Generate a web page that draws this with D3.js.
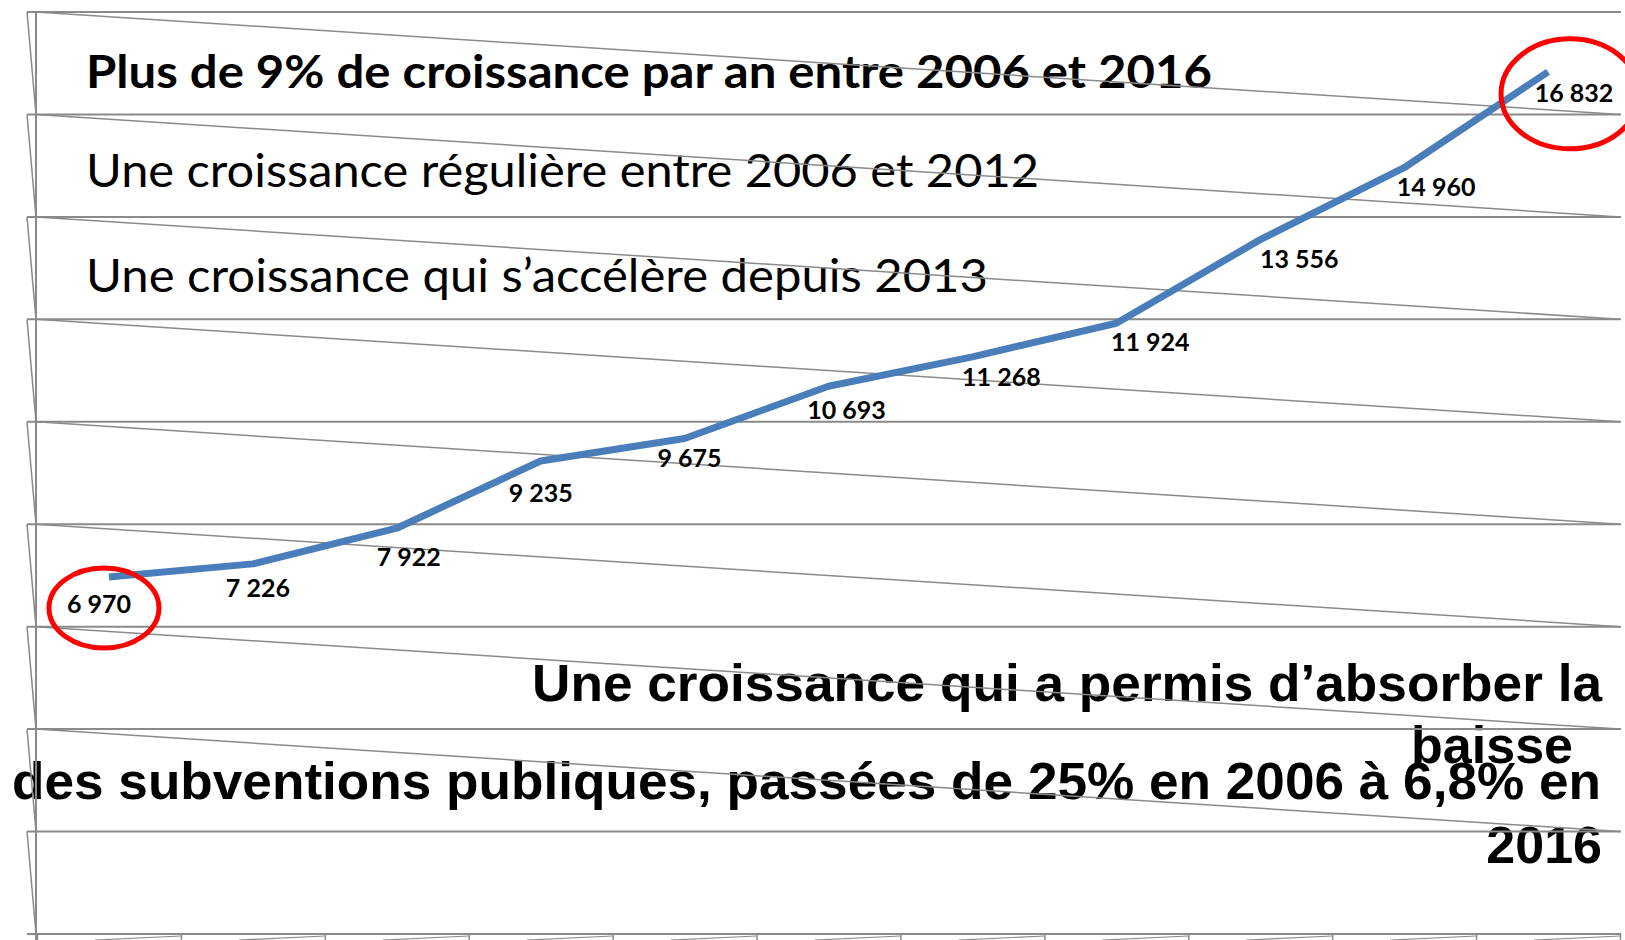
<!DOCTYPE html>
<html>
<head>
<meta charset="utf-8">
<script src="https://cdn.jsdelivr.net/npm/d3@7"></script>
<style>
  html, body { margin: 0; padding: 0; background: #fff; overflow: hidden; }
</style>
</head>
<body>
<div class="chart"></div>
<script>
// données : chiffre d'affaires 2006 - 2016
const years = ['2006', '2007', '2008', '2009', '2010', '2011', '2012', '2013', '2014', '2015', '2016'];
const values = [6970, 7226, 7922, 9235, 9675, 10693, 11268, 11924, 13556, 14960, 16832];
const gridValues = [0, 2000, 4000, 6000, 8000, 10000, 12000, 14000, 16000, 18000];

const titleLines = [
  'Plus de 9% de croissance par an entre 2006 et 2016',
  'Une croissance régulière entre 2006 et 2012',
  'Une croissance qui s’accélère depuis 2013'
];
const noteLines = [
  'Une croissance qui a permis d’absorber la',
  'baisse',
  'des subventions publiques, passées de 25% en 2006 à 6,8% en',
  '2016'
];

// mise en page (vue 3D : étiquettes décalées par rapport aux points)
const labelNudge = [[-10, 36], [5, 33], [12, 38], [0, 41], [5, 29], [18, 33], [29, 29], [34, 28], [39, 28], [32, 28], [26, 30]];
const titleLayout = [
  { x: 86, y: 88, len: 1126, weight: 'bold' },
  { x: 86, y: 187, len: 953, weight: 'normal' },
  { x: 86, y: 292, len: 902, weight: 'normal' }
];
const noteLayout = [
  { x: 1602, y: 701, len: 1070 },
  { x: 1573, y: 763 },
  { x: 1601, y: 799, len: 1589 },
  { x: 1602, y: 863 }
];
// cercles rouges : premier et dernier point
const highlights = [
  { i: 0, dx: -5, dy: 31, rx: 55, ry: 40 },
  { i: 10, dx: 22, dy: 22, rx: 69, ry: 55 }
];

const width = 1625, height = 940;
const wallOuter = 27, wallLeft = 36, wallRight = 1621;
const gridColor = '#8a8a8a';

const svg = d3.select('.chart').append('svg')
  .attr('width', width)
  .attr('height', height);

// échelles
const x = d3.scaleBand().domain(years).range([37, 1620]);
const xc = d => x(d) + x.bandwidth() / 2;
const xEdge = d3.scaleLinear().domain([0, years.length]).range([37, 1620]);
const y = d3.scaleLinear().domain([0, 18000]).range([934, 12]);

const fmt = d3.formatLocale({ decimal: ',', thousands: ' ', grouping: [3], currency: ['', ''] }).format(',d');

// textes du haut
svg.append('g')
  .selectAll('text')
  .data(titleLines)
  .enter()
  .append('text')
  .attr('x', (d, i) => titleLayout[i].x)
  .attr('y', (d, i) => titleLayout[i].y)
  .attr('textLength', (d, i) => titleLayout[i].len)
  .attr('lengthAdjust', 'spacingAndGlyphs')
  .attr('font-family', 'Lato, "Open Sans", sans-serif')
  .attr('font-weight', (d, i) => titleLayout[i].weight)
  .attr('font-size', 46)
  .attr('fill', '#000')
  .text(d => d);

// texte du bas
const notes = svg.append('g')
  .selectAll('text')
  .data(noteLines)
  .enter()
  .append('text')
  .attr('x', (d, i) => noteLayout[i].x - (noteLayout[i].len || 0))
  .attr('y', (d, i) => noteLayout[i].y)
  .attr('text-anchor', (d, i) => noteLayout[i].len ? 'start' : 'end')
  .attr('font-family', '"Liberation Sans", Arial, sans-serif')
  .attr('font-weight', 'bold')
  .attr('font-size', 52)
  .attr('fill', '#000')
  .text(d => d);
notes.filter((d, i) => noteLayout[i].len)
  .attr('textLength', (d, i, n) => noteLayout[noteLines.indexOf(d)].len)
  .attr('lengthAdjust', 'spacingAndGlyphs');

// grille (paroi du fond)
const grid = svg.append('g').attr('stroke', gridColor).attr('fill', 'none');

grid.selectAll('.h-line')
  .data(gridValues)
  .enter()
  .append('line')
  .attr('class', 'h-line')
  .attr('x1', wallOuter)
  .attr('x2', wallRight)
  .attr('y1', d => y(d))
  .attr('y2', d => y(d))
  .attr('stroke-width', 2);

// petits segments obliques de la paroi gauche
grid.selectAll('.l-slant')
  .data(gridValues.slice(1))
  .enter()
  .append('line')
  .attr('class', 'l-slant')
  .attr('x1', wallOuter)
  .attr('y1', d => y(d))
  .attr('x2', wallLeft)
  .attr('y2', (d, i) => y(gridValues[i]))
  .attr('stroke-width', 1.5);

// diagonales de perspective
grid.selectAll('.diag')
  .data(gridValues.slice(2))
  .enter()
  .append('line')
  .attr('class', 'diag')
  .attr('x1', wallLeft)
  .attr('y1', d => y(d))
  .attr('x2', 1620)
  .attr('y2', (d, i) => y(gridValues[i + 1]))
  .attr('stroke-width', 1.5);

grid.append('line')
  .attr('x1', wallLeft)
  .attr('x2', wallLeft)
  .attr('y1', y(18000))
  .attr('y2', height)
  .attr('stroke-width', 2);

// axe des catégories (graduations aux bords)
const xAxis = d3.axisBottom(xEdge)
  .tickValues(d3.range(years.length + 1))
  .tickSize(7)
  .tickSizeOuter(0)
  .tickFormat('');

const axisG = svg.append('g')
  .attr('transform', `translate(0,${y(0)})`)
  .call(xAxis);
axisG.select('.domain').remove();
axisG.selectAll('.tick line').attr('stroke', gridColor).attr('stroke-width', 1.5);

grid.selectAll('.floor')
  .data(d3.range(1, years.length + 1))
  .enter()
  .append('line')
  .attr('class', 'floor')
  .attr('x1', d => xEdge(d) - 86)
  .attr('y1', height)
  .attr('x2', d => xEdge(d))
  .attr('y2', y(0) + 2)
  .attr('stroke-width', 1.2);

// courbe
const series = years.map((yr, i) => ({ year: yr, value: values[i] }));
const line = d3.line()
  .x(d => xc(d.year))
  .y(d => y(d.value));

svg.append('path')
  .datum(series)
  .attr('d', line)
  .attr('fill', 'none')
  .attr('stroke', '#4a7ebb')
  .attr('stroke-width', 7)
  .attr('stroke-linejoin', 'round')
  .attr('stroke-linecap', 'butt');

// étiquettes de données
svg.append('g')
  .selectAll('text')
  .data(series)
  .enter()
  .append('text')
  .attr('x', (d, i) => xc(d.year) + labelNudge[i][0])
  .attr('y', (d, i) => y(d.value) + labelNudge[i][1])
  .attr('text-anchor', 'middle')
  .attr('font-family', 'Lato, "Open Sans", sans-serif')
  .attr('font-weight', 'bold')
  .attr('font-size', 25)
  .attr('fill', '#000')
  .text(d => fmt(d.value));

// cercles rouges
svg.append('g')
  .selectAll('ellipse')
  .data(highlights)
  .enter()
  .append('ellipse')
  .attr('cx', d => xc(years[d.i]) + d.dx)
  .attr('cy', d => y(values[d.i]) + d.dy)
  .attr('rx', d => d.rx)
  .attr('ry', d => d.ry)
  .attr('fill', 'none')
  .attr('stroke', '#ff0000')
  .attr('stroke-width', 5);
</script>
</body>
</html>
